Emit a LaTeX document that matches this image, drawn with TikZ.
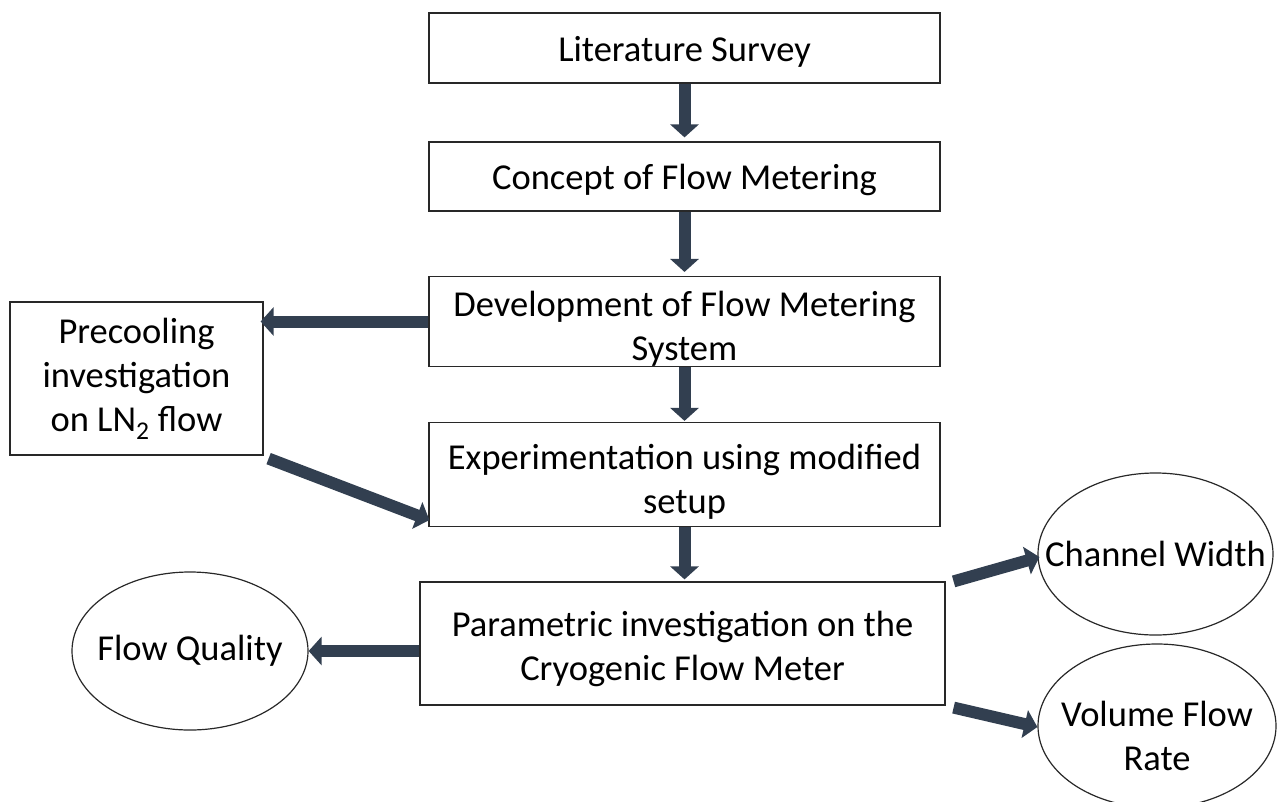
\documentclass[tikz,border=0pt]{standalone}
\usepackage{fontspec}
\setmainfont{Carlito}
\usetikzlibrary{arrows.meta,shapes.geometric}
\definecolor{arrowc}{RGB}{50,63,80}
\definecolor{edgec}{RGB}{40,40,40}
% strut that pushes the first line of a box a little lower
\newcommand{\firststrut}[1]{\rule{0pt}{#1}}
\tikzset{
  stepbox/.style={draw=edgec,line width=1.2pt,fill=white,align=center,inner sep=0pt,
    font=\fontsize{36.5}{44}\selectfont},
  lowtext/.style={execute at begin node={\rule{0pt}{33pt}}},
  oval/.style={ellipse,draw=edgec,line width=1.2pt,inner sep=0pt},
  ovaltext/.style={align=center,font=\fontsize{36.5}{44}\selectfont},
  fatarrow/.style={draw=arrowc,line width=12pt,
    -{Triangle[width=28pt,length=13pt]},fill=arrowc}
}
\begin{document}
\begin{tikzpicture}[x=1pt,y=-1pt]
\useasboundingbox (0,0) rectangle (1280,801);

% main flow boxes
\node[stepbox,lowtext,minimum width=511pt,minimum height=70pt] (lit) at (684.5,48) {Literature Survey};
\node[stepbox,lowtext,minimum width=511pt,minimum height=69pt] (con) at (684.5,176.5) {Concept of Flow Metering};
\node[stepbox,minimum width=511pt,minimum height=89pt] (dev) at (684.5,321.5) {\firststrut{40pt}Development of Flow Metering\\System};
\node[stepbox,minimum width=511pt,minimum height=104pt] (exp) at (684.5,474.5) {\firststrut{40pt}Experimentation using modified\\setup};
\node[stepbox,minimum width=525pt,minimum height=123pt] (par) at (682.5,643.5) {\firststrut{36pt}Parametric investigation on the\\Cryogenic Flow Meter};

% side box
\node[stepbox,minimum width=253pt,minimum height=153pt] (pre) at (136.5,378.5) {Precooling\\investigation\\on LN\textsubscript{2} flow};

% parameter ovals
\node[oval,minimum width=236pt,minimum height=158pt] (fq) at (190,651) {};
\node[ovaltext] at (fq) {Flow Quality};
\node[oval,minimum width=235pt,minimum height=162pt] (cw) at (1155.5,554) {};
\node[ovaltext] at (cw) {Channel Width};
\node[oval,minimum width=238pt,minimum height=164pt] (vfr) at (1157,726) {};
\node[ovaltext] at ([yshift=-10pt]vfr.center) {Volume Flow\\Rate};

% connectors
\draw[fatarrow] (lit.south) -- ([yshift=4pt]con.north);
\draw[fatarrow] (con.south) -- ([yshift=4pt]dev.north);
\draw[fatarrow] (dev.south) -- ([yshift=1pt]exp.north);
\draw[fatarrow] (exp.south) -- ([yshift=2pt]exp.south |- par.north);
\draw[fatarrow] (dev.west) -- ([xshift=-3pt]pre.east |- dev.west);
\draw[fatarrow] ([xshift=5pt,yshift=-3pt]pre.south east) -- ([xshift=1pt,yshift=7pt]exp.south west);
\draw[fatarrow] (fq.east -| par.west) -- (fq.east);
\draw[fatarrow] ([xshift=8pt]par.north east) -- ([xshift=2pt,yshift=-3pt]cw.west);
\draw[fatarrow] ([xshift=8pt,yshift=-2pt]par.south east) -- ([yshift=-1pt]vfr.west);
\end{tikzpicture}
\end{document}
